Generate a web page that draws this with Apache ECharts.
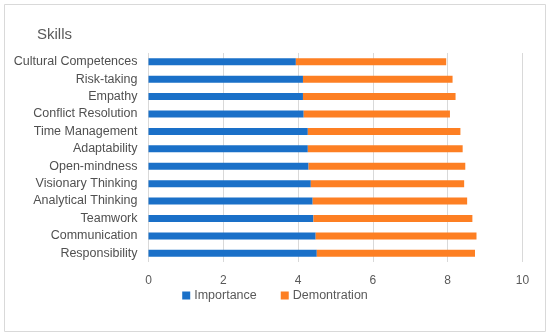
<!DOCTYPE html>
<html><head><meta charset="utf-8">
<script src="https://cdn.jsdelivr.net/npm/echarts@6/dist/echarts.min.js"></script>
<style>html,body{margin:0;padding:0;background:#fff}#c{width:550px;height:336px}</style>
</head><body><div id="c"></div>
<script>
var categories = ["Responsibility","Communication","Teamwork","Analytical Thinking","Visionary Thinking","Open-mindness","Adaptability","Time Management","Conflict Resolution","Empathy","Risk-taking","Cultural Competences"];
var importance = [4.50,4.47,4.41,4.39,4.34,4.28,4.26,4.26,4.15,4.13,4.13,3.94];
var demonstration = [4.23,4.30,4.25,4.13,4.10,4.19,4.14,4.08,3.91,4.08,4.00,4.02];
var xTicks = [0,2,4,6,8,10];

var chart = echarts.init(document.getElementById('c'));
var font = '"Liberation Sans", Arial, sans-serif';
chart.setOption({
  animation:false,
  textStyle:{fontFamily:font},
  title:{text:'Skills',left:32,top:22,textStyle:{fontSize:15,fontWeight:'normal',color:'#595959',fontFamily:font}},
  graphic:[{type:'rect',shape:{x:4.5,y:4.5,width:541,height:327},style:{fill:'none',stroke:'#d9d9d9',lineWidth:1}}],
  grid:{left:148.5,right:27.5,top:53,bottom:74,containLabel:false},
  legend:{bottom:29,left:'center',itemWidth:8,itemHeight:8,itemGap:24,icon:'rect',
    textStyle:{fontSize:12.5,color:'#595959',fontFamily:font,padding:[0,0,0,-1]},
    data:['Importance','Demontration']},
  xAxis:{type:'value',min:0,max:10,interval:2,
    axisLine:{show:false},axisTick:{show:false},
    axisLabel:{fontSize:12,color:'#595959',margin:13,formatter:function(v){return xTicks.indexOf(v)>=0?String(v):'';}},
    splitLine:{lineStyle:{color:'#d9d9d9',width:1}}},
  yAxis:{type:'category',data:categories,
    axisLine:{show:false},axisTick:{show:false},
    axisLabel:{fontSize:12.5,color:'#505050',margin:11}},
  series:[
    {name:'Importance',type:'bar',stack:'s',data:importance,barWidth:7,itemStyle:{color:'#1a70c8'}},
    {name:'Demontration',type:'bar',stack:'s',data:demonstration,barWidth:7,itemStyle:{color:'#fd7f23'}}
  ]
});
</script></body></html>
